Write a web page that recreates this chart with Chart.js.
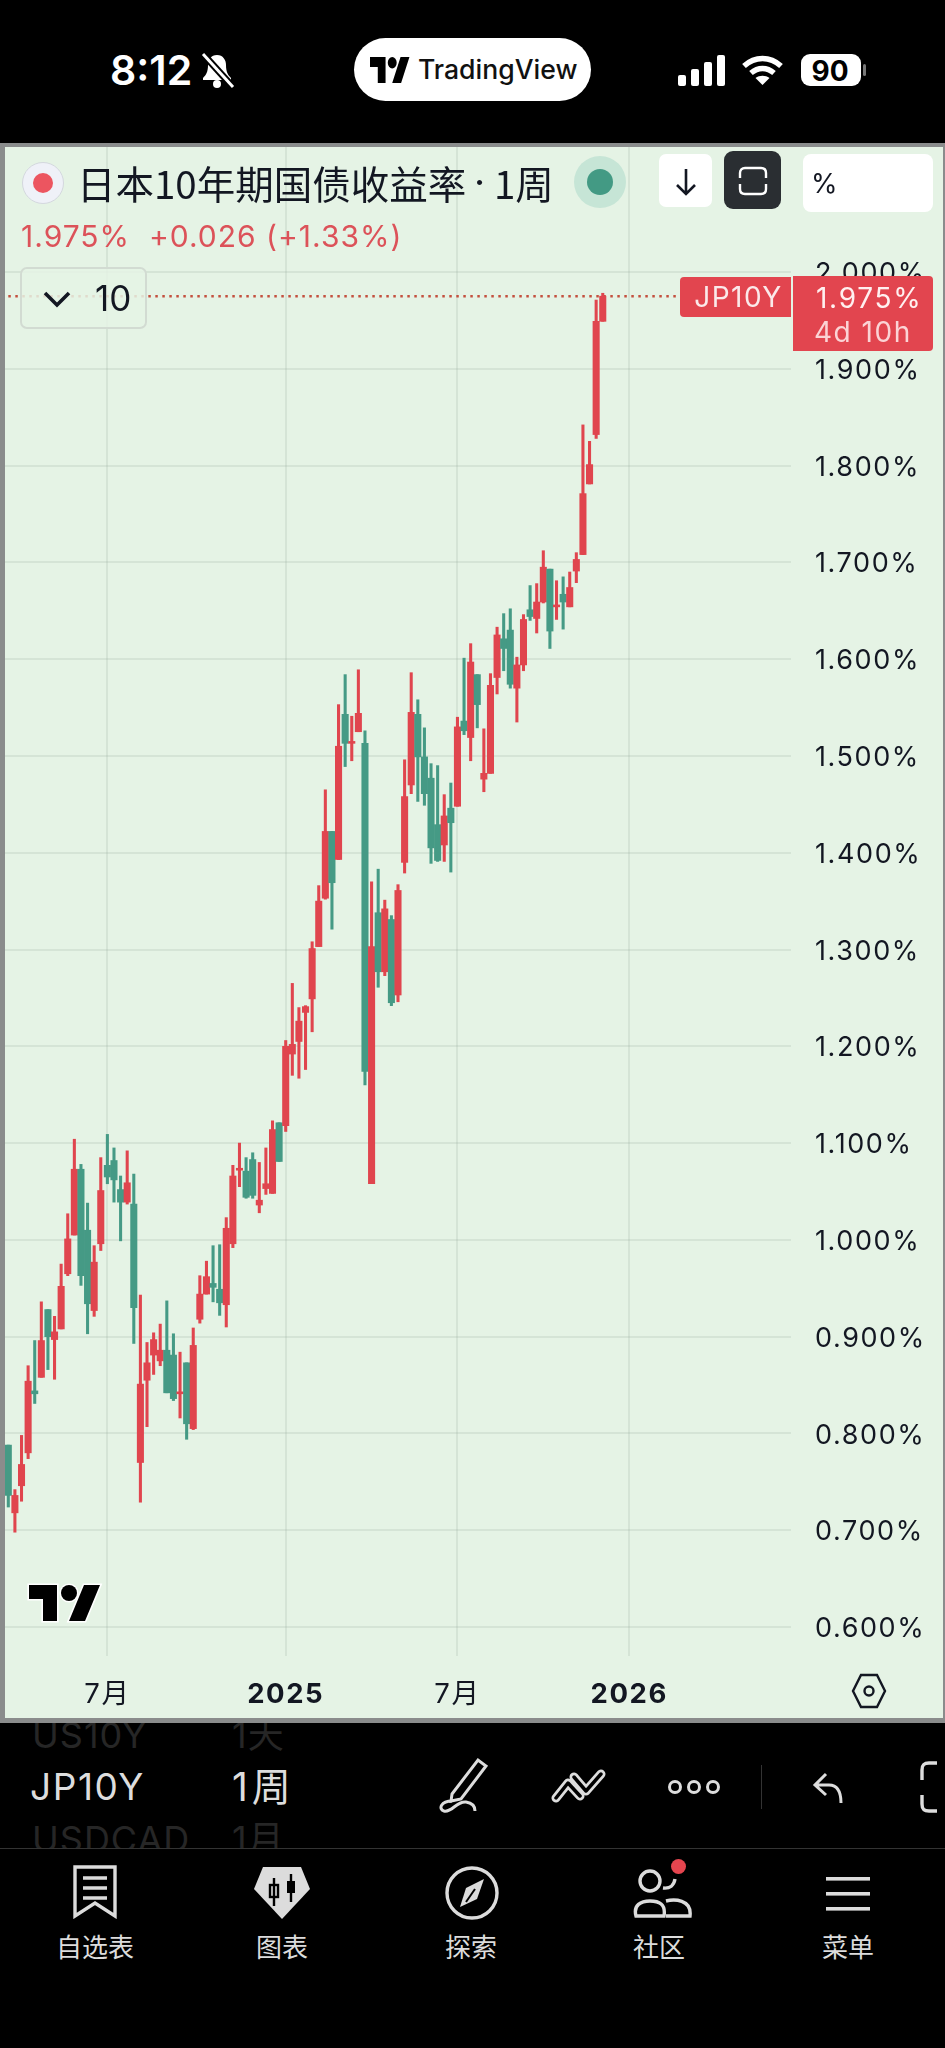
<!DOCTYPE html>
<html lang="zh">
<head>
<meta charset="utf-8">
<title>JP10Y</title>
<script src="https://cdn.jsdelivr.net/npm/chart.js@4"></script>
<style>
    html, body { margin: 0; background: #000; }
    #page { position: relative; width: 945px; height: 2048px; overflow: hidden; background: #000;
        font-family: Inter, "Noto Sans CJK SC", sans-serif; }
    #page > * { position: absolute; }
    #panel { left: 0; top: 143px; width: 938px; height: 1571px; background: #e5f3e5;
        border: solid #8a8c8c; border-width: 4px 2px 5px 5px; }
    #chart { left: 5px; top: 147px; }
    .t { white-space: nowrap; line-height: 1; }
    .ghost { color: #262626; overflow: hidden; font-size: 36px; letter-spacing: 1px; }
    .tab { color: #dcdcdc; font-size: 26px; width: 120px; text-align: center; top: 1935px; }
</style>
</head>
<body>
<div id="page">
    <!-- status bar -->
    <div class="t" style="left:110px;top:50px;color:#fff;font-size:41px;font-weight:600">8:12</div>
    <svg style="left:198px;top:53px" width="38" height="36" viewBox="0 0 38 36" fill="#fff">
        <path d="M19 2c-6 0-9 5-9 10 0 7-2 10-5 13v2h28v-2c-3-3-5-6-5-13 0-5-3-10-9-10z"/>
        <circle cx="19" cy="31" r="4"/>
        <path d="M5 1L35 34" stroke="#000" stroke-width="7"/><path d="M5 1L35 34" stroke="#fff" stroke-width="3"/>
    </svg>
    <div style="left:354px;top:38px;width:237px;height:63px;border-radius:32px;background:#fff"></div>
    <svg style="left:370px;top:57px" width="40" height="26" viewBox="0 4 36 18" preserveAspectRatio="none" fill="#000">
        <path d="M14 22H7V11H0V4h14v18zM28 22h-8l7.5-18h8L28 22z"/><circle cx="20" cy="8" r="4"/>
    </svg>
    <div class="t" style="left:418px;top:56px;color:#111;font-size:26.6px;font-weight:500">TradingView</div>
    <svg style="left:678px;top:54px" width="48" height="32" viewBox="0 0 48 32" fill="#fff">
        <rect x="0" y="21" width="8" height="11" rx="2"/><rect x="13" y="15" width="8" height="17" rx="2"/>
        <rect x="26" y="8" width="8" height="24" rx="2"/><rect x="39" y="1" width="8" height="31" rx="2"/>
    </svg>
    <svg style="left:741px;top:54px" width="43" height="32" viewBox="0 0 43 32" fill="none" stroke="#fff" stroke-width="5.5">
        <path d="M3 12c11-10 26-10 37 0"/><path d="M10 19c7-6 16-6 23 0"/>
        <path d="M21.5 31l-7-7c4-3 10-3 14 0z" fill="#fff" stroke="none"/>
    </svg>
    <div style="left:801px;top:54px;width:60px;height:32px;border-radius:9px;background:#fff"></div>
    <div style="left:863px;top:64px;width:3px;height:12px;border-radius:2px;background:#777"></div>
    <div class="t" style="left:801px;top:57px;width:58px;text-align:center;color:#000;font-size:28px;font-weight:700">90</div>

    <!-- chart panel -->
    <div id="panel"></div>
    <canvas id="chart" width="938" height="1571"></canvas>

    <div style="left:22px;top:162px;width:40px;height:40px;border-radius:50%;background:#eff1f8;border:1px solid #d3d7dd"></div>
    <div style="left:33px;top:173px;width:20px;height:20px;border-radius:50%;background:#ec5560"></div>
    <div class="t" style="left:77px;top:163px;color:#131722;font-size:38.5px;font-family:'Noto Sans CJK SC',sans-serif">日本10年期国债收益率</div>
    <div class="t" style="left:474px;top:163px;color:#131722;font-size:38.5px">·</div>
    <div class="t" style="left:494px;top:163px;color:#131722;font-size:38.5px;font-family:'Noto Sans CJK SC',sans-serif">1周</div>
    <div style="left:574px;top:156px;width:52px;height:52px;border-radius:50%;background:#c6e5d6"></div>
    <div style="left:587px;top:169px;width:26px;height:26px;border-radius:50%;background:#439a84"></div>
    <div style="left:659px;top:154px;width:53px;height:53px;border-radius:7px;background:#fff"></div>
    <svg style="left:672px;top:167px" width="28" height="30" viewBox="0 0 28 30" fill="none" stroke="#131722" stroke-width="2.6">
        <path d="M14 2v25M5 18l9 9 9-9"/>
    </svg>
    <div style="left:724px;top:151px;width:57px;height:58px;border-radius:9px;background:#2a2e32"></div>
    <svg style="left:738px;top:166px" width="30" height="30" viewBox="0 0 30 30" fill="none" stroke="#fff" stroke-width="2.4">
        <path d="M2 12V7c0-3 2-5 5-5h16c3 0 5 2 5 5v5M2 18v5c0 3 2 5 5 5h16c3 0 5-2 5-5v-5"/>
    </svg>
    <div style="left:803px;top:154px;width:130px;height:58px;border-radius:8px;background:#fff"></div>
    <div class="t" style="left:811px;top:170px;color:#131722;font-size:27px">%</div>
    <div class="t" style="left:21px;top:221px;color:#dc5259;font-size:30px;letter-spacing:1px">1.975%&nbsp; +0.026 (+1.33%)</div>

    <div style="left:20px;top:267px;width:127px;height:62px;box-sizing:border-box;border-radius:7px;background:rgba(229,243,229,.85);border:2px solid #d2dbd2"></div>
    <svg style="left:43px;top:290px" width="28" height="18" viewBox="0 0 28 18" fill="none" stroke="#131722" stroke-width="3.6">
        <path d="M2 3l12 12 12-12"/>
    </svg>
    <div class="t" style="left:95px;top:281px;color:#131722;font-size:35px">10</div>

    <div style="left:680px;top:277px;width:111px;height:40px;border-radius:4px 0 0 4px;background:#e2454f"></div>
    <div class="t" style="left:683px;top:283px;width:111px;text-align:center;color:#fbe9ea;font-size:28px;letter-spacing:1.5px">JP10Y</div>
    <div style="left:793px;top:276px;width:140px;height:75px;border-radius:0 4px 4px 0;background:#e2454f"></div>
    <div class="t" style="left:816px;top:284px;color:#fff0f0;font-size:28px;letter-spacing:1.7px">1.975%</div>
    <div class="t" style="left:814px;top:318px;color:#fbd3d5;font-size:28px;letter-spacing:1.5px">4d 10h</div>

    <svg style="left:29px;top:1585px;overflow:visible" width="72" height="36" viewBox="0 4 36 18" preserveAspectRatio="none" fill="#000" stroke="#fff" stroke-width="1.6" paint-order="stroke">
        <path d="M14 22H7V11H0V4h14v18zM28 22h-8l7.5-18h8L28 22z"/><circle cx="20" cy="8" r="4"/>
    </svg>
    <svg style="left:851px;top:1672px" width="36" height="38" viewBox="0 0 36 38" fill="none" stroke="#131722" stroke-width="2.4">
        <path d="M10 3h16l8 16-8 16H10L2 19z"/><circle cx="18" cy="19" r="4.5"/>
    </svg>

    <!-- symbol strip -->
    <div class="ghost" style="left:32px;top:1723px;width:150px;height:30px"><div class="t" style="margin-top:-6px">US10Y</div></div>
    <div class="ghost" style="left:232px;top:1723px;width:80px;height:30px"><div class="t" style="margin-top:-6px">1天</div></div>
    <div class="t" style="left:30px;top:1768px;color:#ddd;font-size:37px;letter-spacing:1.6px">JP10Y</div>
    <div class="t" style="left:232px;top:1767px;color:#ddd;font-size:39px;letter-spacing:4px">1周</div>
    <div class="ghost" style="left:32px;top:1821px;width:158px;height:27px"><div class="t">USDCAD</div></div>
    <div class="ghost" style="left:232px;top:1821px;width:80px;height:27px"><div class="t">1月</div></div>
    <svg style="left:438px;top:1757px" width="54" height="56" viewBox="0 0 54 56" fill="none" stroke="#ddd" stroke-width="3">
        <path d="M14 37L40 3l8 6-25 33-10 2z"/><path d="M14 44C3 44 0 52 6 54c8 2 12-10 22-9 7 1 9 5 9 9"/>
    </svg>
    <svg style="left:550px;top:1768px" width="58" height="36" viewBox="0 0 58 36" fill="none" stroke-linecap="round" stroke-linejoin="round">
        <path d="M6 30L18 15l12 13M24 9l12 14L51 6" stroke="#ddd" stroke-width="9"/>
        <path d="M6 30L18 15l12 13M24 9l12 14L51 6" stroke="#000" stroke-width="3.5"/>
    </svg>
    <svg style="left:667px;top:1779px" width="54" height="16" viewBox="0 0 54 16" fill="none" stroke="#ddd" stroke-width="3">
        <circle cx="8" cy="8" r="5.5"/><circle cx="27" cy="8" r="5.5"/><circle cx="46" cy="8" r="5.5"/>
    </svg>
    <div style="left:761px;top:1765px;width:1px;height:44px;background:#333"></div>
    <svg style="left:812px;top:1772px" width="34" height="32" viewBox="0 0 34 32" fill="none" stroke="#ddd" stroke-width="3">
        <path d="M14 2L3 13l11 10M3 13h14c8 0 12 6 12 18"/>
    </svg>
    <svg style="left:919px;top:1761px" width="26" height="52" viewBox="0 0 26 52" fill="none" stroke="#ddd" stroke-width="3.4">
        <path d="M18 2H10C5 2 3 4 3 9v10M3 34v9c0 5 2 7 7 7h8"/>
    </svg>
    <div style="left:0;top:1848px;width:945px;height:1px;background:#333"></div>

    <!-- tab bar -->
    <svg style="left:72px;top:1865px" width="46" height="54" viewBox="0 0 46 54" fill="none" stroke="#dcdcdc" stroke-width="3.4">
        <path d="M3 2h40v49L23 38 3 51zM11 13h24M11 23h24M11 33h24"/>
    </svg>
    <svg style="left:253px;top:1866px" width="58" height="54" viewBox="0 0 58 54">
        <path d="M10 1h38l9 22-28 30L1 23z" fill="#dcdcdc"/>
        <path d="M21 12v28M38 8v28" stroke="#000" stroke-width="2.4"/>
        <rect x="17" y="19" width="8" height="12" fill="none" stroke="#000" stroke-width="2.4"/>
        <rect x="34" y="15" width="8" height="12" fill="#000"/>
    </svg>
    <svg style="left:445px;top:1866px" width="54" height="54" viewBox="0 0 54 54" fill="none" stroke="#dcdcdc" stroke-width="3.4">
        <circle cx="27" cy="27" r="25"/>
        <path d="M39 13L32 33l-17 8 6-19z" fill="#dcdcdc" stroke="none"/>
        <path d="M21 36l9-13" stroke="#000" stroke-width="2"/>
    </svg>
    <svg style="left:633px;top:1866px" width="60" height="54" viewBox="0 0 60 54" fill="none" stroke="#dcdcdc" stroke-width="3.4">
        <circle cx="17" cy="15" r="10"/><path d="M30 22c7 1 11-3 12-9"/>
        <path d="M3 50c-3-11 5-15 14-15s16 3 14 15zM33 35c8-2 26-2 24 15H33"/>
    </svg>
    <div style="left:671px;top:1859px;width:15px;height:15px;border-radius:50%;background:#e5454f"></div>
    <svg style="left:826px;top:1877px" width="46" height="34" viewBox="0 0 46 34" fill="#dcdcdc">
        <rect y="0" width="44" height="3.6"/><rect y="15" width="44" height="3.6"/><rect y="30" width="44" height="3.6"/>
    </svg>
    <div class="t tab" style="left:35px">自选表</div>
    <div class="t tab" style="left:222px">图表</div>
    <div class="t tab" style="left:411px">探索</div>
    <div class="t tab" style="left:599px">社区</div>
    <div class="t tab" style="left:788px">菜单</div>
</div>

<script>
// Weekly candles. The first one is the week of 2024-03-18.
const opens = [
    0.788, 0.718, 0.746, 0.780, 0.844, 0.858, 0.928, 0.897, 0.908, 0.965, 1.005, 1.073, 1.010,
    0.927, 0.996, 1.077, 1.082, 1.052, 1.039, 1.037, 0.770, 0.855, 0.881, 0.875, 0.886, 0.881,
    0.841, 0.873, 0.805, 0.918, 0.944, 0.955, 0.949, 0.933, 0.996, 1.072, 1.071, 1.083, 1.036,
    1.053, 1.048, 1.121, 1.118, 1.192, 1.205, 1.235, 1.249, 1.303, 1.353, 1.422, 1.393, 1.543,
    1.513, 1.525, 1.513, 1.058, 1.338, 1.277, 1.331, 1.253, 1.390, 1.470, 1.543, 1.499, 1.477,
    1.429, 1.408, 1.446, 1.448, 1.536, 1.519, 1.584, 1.476, 1.482, 1.581, 1.621, 1.630, 1.570,
    1.594, 1.651, 1.642, 1.659, 1.693, 1.654, 1.667, 1.654, 1.691, 1.708, 1.781, 1.832, 1.949,
];
const highs = [
    0.788, 0.742, 0.798, 0.870, 0.896, 0.936, 0.928, 0.921, 0.975, 1.027, 1.104, 1.078, 1.038,
    0.994, 1.085, 1.109, 1.095, 1.066, 1.092, 1.068, 0.943, 0.894, 0.904, 0.913, 0.937, 0.903,
    0.884, 0.873, 0.909, 0.963, 0.978, 0.994, 0.995, 1.023, 1.077, 1.100, 1.085, 1.090, 1.080,
    1.095, 1.123, 1.121, 1.206, 1.265, 1.240, 1.242, 1.308, 1.366, 1.465, 1.422, 1.553, 1.584,
    1.541, 1.589, 1.526, 1.370, 1.383, 1.351, 1.335, 1.367, 1.496, 1.586, 1.558, 1.529, 1.492,
    1.490, 1.460, 1.472, 1.540, 1.601, 1.616, 1.584, 1.528, 1.585, 1.633, 1.647, 1.652, 1.602,
    1.646, 1.676, 1.678, 1.712, 1.693, 1.681, 1.685, 1.690, 1.710, 1.842, 1.825, 1.971, 1.978,
];
const lows = [
    0.724, 0.698, 0.730, 0.774, 0.831, 0.858, 0.866, 0.856, 0.908, 0.963, 1.005, 0.953, 0.903,
    0.921, 0.989, 1.058, 1.039, 0.999, 1.037, 0.893, 0.729, 0.807, 0.861, 0.870, 0.842, 0.834,
    0.816, 0.794, 0.804, 0.914, 0.944, 0.936, 0.922, 0.910, 0.992, 1.055, 1.043, 1.043, 1.028,
    1.047, 1.048, 1.081, 1.112, 1.170, 1.167, 1.176, 1.215, 1.303, 1.352, 1.321, 1.393, 1.489,
    1.495, 1.525, 1.160, 1.058, 1.261, 1.273, 1.242, 1.246, 1.379, 1.461, 1.453, 1.449, 1.389,
    1.391, 1.391, 1.380, 1.448, 1.522, 1.495, 1.529, 1.463, 1.482, 1.564, 1.588, 1.570, 1.535,
    1.588, 1.640, 1.627, 1.658, 1.611, 1.641, 1.631, 1.654, 1.679, 1.708, 1.781, 1.828, 1.949,
];
const closes = [
    0.736, 0.736, 0.768, 0.854, 0.841, 0.896, 0.900, 0.905, 0.952, 1.001, 1.073, 0.963, 0.934,
    0.977, 1.051, 1.065, 1.062, 1.039, 1.059, 0.930, 0.851, 0.873, 0.897, 0.886, 0.842, 0.836,
    0.843, 0.810, 0.891, 0.944, 0.962, 0.951, 0.935, 1.012, 1.066, 1.074, 1.044, 1.046, 1.041,
    1.058, 1.114, 1.081, 1.200, 1.202, 1.226, 1.241, 1.301, 1.350, 1.422, 1.369, 1.510, 1.513,
    1.515, 1.544, 1.174, 1.303, 1.277, 1.342, 1.245, 1.361, 1.458, 1.545, 1.499, 1.461, 1.405,
    1.392, 1.438, 1.431, 1.530, 1.526, 1.597, 1.553, 1.482, 1.573, 1.625, 1.611, 1.574, 1.594,
    1.641, 1.644, 1.659, 1.695, 1.629, 1.656, 1.659, 1.674, 1.703, 1.771, 1.801, 1.949, 1.975,
];
const lastPrice = 1.975;

const priceTicks = [0.6, 0.7, 0.8, 0.9, 1.0, 1.1, 1.2, 1.3, 1.4, 1.5, 1.6, 1.7, 1.8, 1.9, 2.0];
const timeTickWeeks = ['2024-07-01', '2025-01-06', '2025-07-07', '2026-01-05'];
const timeTickLabels = ['7月', '2025', '7月', '2026'];

const UP = '#e0454e';
const DOWN = '#459a85';
const GRID = 'rgba(110,130,115,0.13)';
const WEEK_COUNT = 119; // includes the empty weeks right of the last candle

// Category axis: one label per week
const weeks = [];
for (let i = 0; i < WEEK_COUNT; i++) {
    weeks.push(new Date(Date.UTC(2024, 2, 18 + i * 7)).toISOString().slice(0, 10));
}

const timeLabel = (index) => {
    const at = timeTickWeeks.indexOf(weeks[index]);
    return at === -1 ? '' : timeTickLabels[at];
};
const candleColors = closes.map((c, i) => (c >= opens[i] ? UP : DOWN));

// The app's axis font runs wider than Inter
const labelSpacing = {
    id: 'labelSpacing',
    beforeDraw: (chart) => { chart.ctx.letterSpacing = '1.6px'; },
};

new Chart(document.getElementById('chart').getContext('2d'), {
    type: 'bar',
    plugins: [labelSpacing],
    data: {
        labels: weeks,
        datasets: [
            {
                type: 'line',
                data: weeks.map(() => lastPrice),
                borderColor: '#c4503f',
                borderWidth: 2.5,
                borderDash: [2.5, 4.5],
                pointRadius: 0,
                order: 3,
            },
            {
                data: highs.map((h, i) => [lows[i], h]),
                backgroundColor: candleColors,
                barThickness: 2.4,
                grouped: false,
                order: 2,
            },
            {
                data: closes.map((c, i) => [opens[i], c]),
                backgroundColor: candleColors,
                barThickness: 6.4,
                grouped: false,
                order: 1,
            },
        ],
    },
    options: {
        responsive: false,
        animation: false,
        layout: { padding: 0 },
        plugins: { legend: { display: false }, tooltip: { enabled: false } },
        scales: {
            x: {
                afterFit: (s) => { s.height = 62; s.paddingLeft = 0; s.paddingRight = 0; },
                border: { display: false },
                grid: {
                    offset: false,
                    drawTicks: false,
                    lineWidth: 2,
                    color: (ctx) => (timeLabel(ctx.index) ? GRID : 'transparent'),
                },
                ticks: {
                    autoSkip: false,
                    maxRotation: 0,
                    padding: 22,
                    color: '#131722',
                    callback: (v, i) => timeLabel(i),
                    font: (ctx) => ({
                        family: 'Inter, "Noto Sans CJK SC"',
                        size: 27.5,
                        weight: /^\d+$/.test(timeLabel(ctx.index)) ? '700' : '400',
                    }),
                },
            },
            y: {
                position: 'right',
                min: 0.5701,
                max: 2.1291,
                afterBuildTicks: (s) => { s.ticks = priceTicks.map((value) => ({ value })); },
                afterFit: (s) => { s.width = 152; s.paddingTop = 0; s.paddingBottom = 0; },
                border: { display: false },
                grid: { drawTicks: false, lineWidth: 2, color: GRID },
                ticks: {
                    padding: 24,
                    labelOffset: 2,
                    color: '#131722',
                    font: { family: 'Inter', size: 27 },
                    callback: (v) => v.toFixed(3) + '%',
                },
            },
        },
    },
});
</script>
</body>
</html>
